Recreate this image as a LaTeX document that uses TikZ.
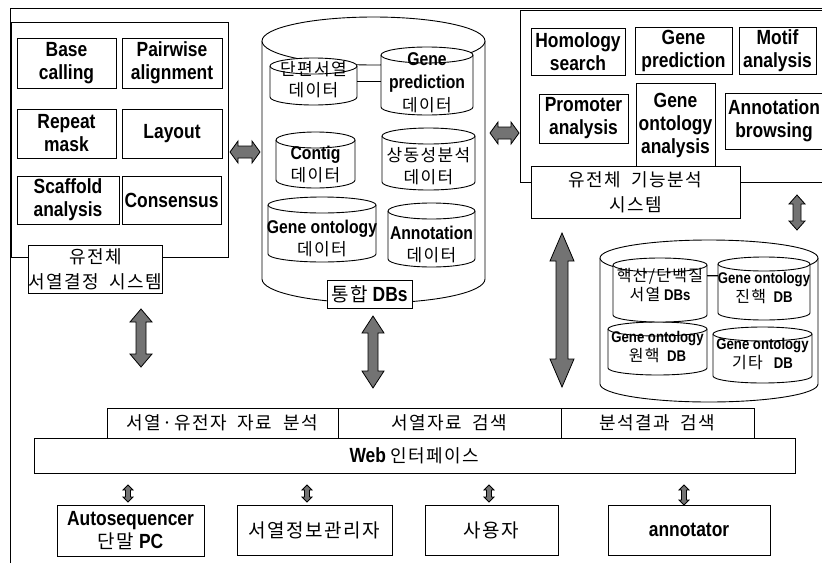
\documentclass[tikz,border=0pt]{standalone}
\usepackage{fontspec}
\setmainfont{Liberation Sans}
\newfontfamily\lb[FakeStretch=0.85]{Liberation Sans}
\newfontfamily\kr[LetterSpace=8]{Noto Sans CJK KR}
\newcommand\kor{\kr\mdseries}
\newcommand\mycyl[6]{% name, cx, yt, rx, yb, ry
 \filldraw[cylst] (#2-#4,#3) -- (#2-#4,#5) arc[start angle=180,end angle=0,x radius=#4,y radius=#6] -- (#2+#4,#3) arc[start angle=0,end angle=-180,x radius=#4,y radius=#6] -- cycle;
 \draw[cylst] (#2-#4,#3) arc[start angle=180,end angle=0,x radius=#4,y radius=#6];
 \node[inner sep=0pt, minimum width=2*#4 pt, minimum height=#5-#3 pt] (#1) at (#2,{(#3+#5)/2}) {};
}
\newcommand\vdarr[6]{% x, ytop, ybot, half shaft, half head, head length
 \filldraw[arr] (#1,#2) -- (#1+#5,#2+#6) -- (#1+#4,#2+#6) -- (#1+#4,#3-#6) -- (#1+#5,#3-#6) -- (#1,#3) -- (#1-#5,#3-#6) -- (#1-#4,#3-#6) -- (#1-#4,#2+#6) -- (#1-#5,#2+#6) -- cycle;}
\newcommand\hdarr[6]{% y, xl, xr, half shaft, half head, head length
 \filldraw[arr] (#2,#1) -- (#2+#6,#1-#5) -- (#2+#6,#1-#4) -- (#3-#6,#1-#4) -- (#3-#6,#1-#5) -- (#3,#1) -- (#3-#6,#1+#5) -- (#3-#6,#1+#4) -- (#2+#6,#1+#4) -- (#2+#6,#1+#5) -- cycle;}
\tikzset{
 frame/.style={draw, line width=0.9pt},
 panel/.style={draw, fill=white, line width=0.9pt, inner sep=0pt},
 box/.style={draw, fill=white, line width=0.9pt, inner sep=0pt, align=center},
 cylst/.style={draw=black, fill=white, line width=0.9pt},
 arr/.style={fill=black!55, draw=black, line width=0.8pt},
 link/.style={draw, line width=0.8pt},
 eng/.style={font=\lb\bfseries\fontsize{20.5}{23}\selectfont},
 kl/.style={font=\kr\fontsize{18}{25}\selectfont},
 ctext/.style={inner sep=0pt, align=center, font=\lb\bfseries\fontsize{18.5}{22}\selectfont},
 rtext/.style={inner sep=0pt, align=center, font=\lb\bfseries\fontsize{15.5}{19}\selectfont},
}
\begin{document}
\begin{tikzpicture}[x=1pt,y=-1pt]
\useasboundingbox (0,0) rectangle (822,563);
\draw[frame] (10,563) -- (10,8) -- (822,8);

% ---------- left panel: sequencing system
\node[panel, minimum width=217pt, minimum height=235pt] (seqsys) at (119.5,139.5) {};
\node[box, eng, minimum width=99pt, minimum height=50pt] (base) at (66.5,63) {Base\\calling};
\node[box, eng, minimum width=100pt, minimum height=50pt] (pair) at (172,63) {Pairwise\\alignment};
\node[box, eng, minimum width=99pt, minimum height=49pt] (repeat) at (66.5,133.5) {Repeat\\mask};
\node[box, eng, minimum width=100pt, minimum height=49pt] (layout) at (172,133.5) {Layout};
\node[box, eng, minimum width=102pt, minimum height=48pt] (scaf) at (68,200) {Scaffold\\analysis};
\node[box, eng, minimum width=99pt, minimum height=48pt] (cons) at (171.5,200) {Consensus};
\node[box, kl, minimum width=115pt, minimum height=48pt] (seqlab) at (95.5,269) {유전체\\서열결정~~시스템};

% ---------- integrated DBs
\mycyl{db}{373.5}{41}{111.5}{279}{24}
\mycyl{c1}{313.5}{66}{43.5}{97}{8}
\mycyl{c2}{427}{55}{46}{107}{8}
\draw[link] (c1.east) -- (c1.east -| c2.west);
\mycyl{c3}{315.5}{140}{39.5}{180}{8}
\mycyl{c4}{428.5}{136}{46.5}{182}{8}
\mycyl{c5}{322}{205}{54}{254}{8}
\mycyl{c6}{431.5}{211}{43.5}{259}{8}
\node[ctext] (c1t) at (313.5,80) {{\kor\fontsize{17}{18}\selectfont 단편서열}\\[-1pt]{\kor\fontsize{17}{18}\selectfont 데이터}};
\node[ctext, font=\lb\bfseries\fontsize{18.5}{23}\selectfont] (c2t) at (427,83) {Gene\\prediction\\{\kor\fontsize{17}{18}\selectfont 데이터}};
\node[ctext] (c3t) at (315.5,164) {Contig\\{\kor\fontsize{17}{18}\selectfont 데이터}};
\node[ctext] (c4t) at (428.5,166) {{\kor\fontsize{17}{18}\selectfont 상동성분석}\\{\kor\fontsize{17}{18}\selectfont 데이터}};
\node[ctext] (c5t) at (322,238) {Gene ontology\\{\kor\fontsize{17}{18}\selectfont 데이터}};
\node[ctext] (c6t) at (431.5,244) {Annotation\\{\kor\fontsize{17}{18}\selectfont 데이터}};
\node[box, eng, minimum width=85pt, minimum height=28pt] (dblab) at (369.5,294) {{\kor\fontsize{19}{22}\selectfont 통합}~DBs};

% ---------- right panel: functional analysis system
\node[panel, minimum width=304pt, minimum height=172pt] (funsys) at (672,96) {};
\node[box, eng, minimum width=94pt, minimum height=47pt] (homol) at (578,51.5) {Homology\\search};
\node[box, eng, minimum width=97pt, minimum height=47pt] (gpred) at (683.5,50.5) {Gene\\prediction};
\node[box, eng, minimum width=77pt, minimum height=47pt] (motif) at (777.5,50.5) {Motif\\analysis};
\node[box, eng, minimum width=89pt, minimum height=49pt] (prom) at (583.5,118.5) {Promoter\\analysis};
\node[box, eng, minimum width=79pt, minimum height=84pt] (gonto) at (675.5,125) {Gene\\ontology\\analysis};
\node[box, eng, minimum width=98pt, minimum height=56pt] (annob) at (774,121) {Annotation\\browsing};
\node[box, kl, minimum width=209pt, minimum height=52pt] (funlab) at (635.5,192) {유전체~~기능분석\\시스템};

% ---------- right DB cylinder
\mycyl{rdb}{709}{258}{109}{384}{18}
\mycyl{d3}{657.5}{329}{49.5}{368}{7}
\mycyl{d4}{762.5}{334}{49.5}{376}{7}
\mycyl{d1}{660}{265}{47}{315}{7}
\mycyl{d2}{764}{264}{46}{313}{7}
\draw[link] ([yshift=15pt]d1.east) -- ([yshift=15pt]d1.east -| d2.west);
\node[rtext] (d1t) at (660,285) {{\kor\fontsize{16}{18}\selectfont 핵산/단백질}\\{\kor\fontsize{16}{18}\selectfont 서열}~DBs};
\node[rtext] (d2t) at (764,288) {Gene ontology\\{\kor\fontsize{16}{18}\selectfont 진핵}~~DB};
\node[rtext] (d3t) at (657.5,347) {Gene ontology\\{\kor\fontsize{16}{18}\selectfont 원핵}~~DB};
\node[rtext] (d4t) at (762.5,354) {Gene ontology\\{\kor\fontsize{16}{18}\selectfont 기타}~~~DB};

% ---------- web interface
\node[box, kl, minimum width=231pt, minimum height=30pt] (tab1) at (222.5,423) {서열·유전자~~자료~~분석};
\node[box, kl, minimum width=223pt, minimum height=30pt] (tab2) at (449.5,423) {서열자료~~검색};
\node[box, kl, minimum width=193pt, minimum height=30pt] (tab3) at (657.5,423) {분석결과~~검색};
\node[box, eng, minimum width=761pt, minimum height=35pt] (web) at (414.5,455.5) {Web~{\kor\fontsize{18}{20}\selectfont 인터페이스}};

% ---------- users
\node[box, eng, minimum width=147pt, minimum height=51pt] (auto) at (130.5,530.5) {Autosequencer\\{\kor\fontsize{19}{22}\selectfont 단말}~PC};
\node[box, kl, font=\kr\fontsize{19}{22}\selectfont, minimum width=155pt, minimum height=50pt] (mgr) at (314.5,530) {서열정보관리자};
\node[box, kl, font=\kr\fontsize{19}{22}\selectfont, minimum width=133pt, minimum height=50pt] (user) at (491.5,530) {사용자};
\node[box, eng, minimum width=162pt, minimum height=50pt] (annot) at (689,530) {annotator};

% ---------- arrows
\hdarr{152}{230}{260}{6}{11}{8}
\hdarr{133}{490}{519}{6}{11}{8}
\vdarr{797}{195}{230}{4}{8}{9}
\vdarr{141}{309}{367}{5}{11}{13}
\vdarr{373}{316}{388}{5}{11}{17}
\vdarr{562}{233}{387}{6}{12}{28}
\vdarr{128}{485}{502}{2.5}{5}{5}
\vdarr{307}{485}{502}{2.5}{5}{5}
\vdarr{489}{485}{502}{2.5}{5}{5}
\vdarr{684}{485}{505}{2.5}{5}{5}
\end{tikzpicture}
\end{document}
